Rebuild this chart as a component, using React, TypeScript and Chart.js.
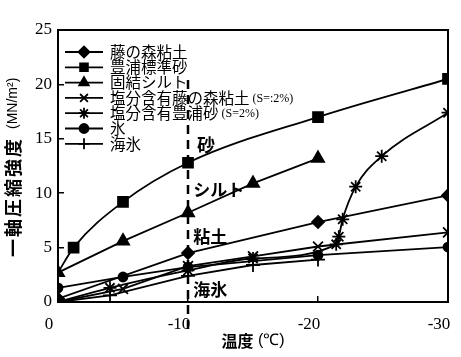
import React, { useEffect, useRef } from 'react';
import { Chart, registerables } from 'chart.js';
import { drawPoint } from 'chart.js/helpers';

Chart.register(...registerables);

// ---- data ----
const seriesLabels = [
  '藤の森粘土',
  '豊浦標準砂',
  '固結シルト',
  '塩分含有藤の森粘土 (S=:2%)',
  '塩分含有豊浦砂 (S=2%)',
  '氷',
  '海氷',
];
const clayX = [0, -10, -20, -30];
const clayY = [0.3, 4.5, 7.35, 9.8];
const sandX = [0, -1.2, -5, -10, -20, -30];
const sandY = [2.7, 5.0, 9.2, 12.8, 17.0, 20.5];
const siltX = [0, -5, -10, -15, -20];
const siltY = [2.7, 5.6, 8.2, 10.9, 13.2];
const saltClayX = [0, -5, -10, -15, -20, -30];
const saltClayY = [0, 1.2, 3.3, 4.2, 5.1, 6.4];
const saltSandX = [0, -4, -10, -15, -21.4, -21.6, -21.9, -22.9, -24.9, -30];
const saltSandY = [0, 1.3, 2.9, 4.0, 5.3, 6.0, 7.6, 10.6, 13.4, 17.4];
const iceX = [0, -5, -10, -20, -30];
const iceY = [1.3, 2.3, 3.2, 4.3, 5.05];
const seaIceX = [0, -4, -10, -15, -20];
const seaIceY = [0, 0.6, 2.4, 3.4, 3.9];

const xTicks = [0, -10, -20, -30];
const yTicks = [0, 5, 10, 15, 20, 25];

const dividerX = [-10, -10];
const dividerY = [20.4, -3];

const noteLabels = ['砂', 'シルト', '粘土', '海氷'];
const noteX = [-10.7, -10.4, -10.4, -10.4];
const noteY = [14.4, 10.3, 6.0, 1.1];

const yTitleMain = '一軸圧縮強度';
const yTitleUnit = '(MN/m²)';
const xTitleMain = '温度';
const xTitleUnit = ' (℃)';

const pts = (xs: number[], ys: number[]) => xs.map((x, i) => ({ x, y: ys[i] }));

const seriesDefs = [
  { xs: clayX, ys: clayY, style: 'rectRot', r: 6, smooth: false },
  { xs: sandX, ys: sandY, style: 'rect', r: 7, smooth: true, hideFirst: true },
  { xs: siltX, ys: siltY, style: 'triangle', r: 7, smooth: false },
  { xs: saltClayX, ys: saltClayY, style: 'crossRot', r: 7, smooth: false },
  { xs: saltSandX, ys: saltSandY, style: 'star', r: 6.5, smooth: true },
  { xs: iceX, ys: iceY, style: 'circle', r: 4.5, smooth: false },
  { xs: seaIceX, ys: seaIceY, style: 'cross', r: 7, smooth: false },
];

const CJK = '"Noto Sans CJK JP", sans-serif';
const SERIF = '"Liberation Serif", "Times New Roman", serif';
const SANS = '"Liberation Sans", Arial, sans-serif';

const decorPlugin = {
  id: 'decor',
  afterDatasetsDraw(chart: any) {
    const ctx = chart.ctx as CanvasRenderingContext2D;
    const area = chart.chartArea;
    const xs = chart.scales.x;
    const ys = chart.scales.y;
    ctx.save();
    // frame
    ctx.strokeStyle = '#000';
    ctx.lineWidth = 2;
    ctx.strokeRect(area.left, area.top, area.right - area.left, area.bottom - area.top);

    // annotations
    ctx.fillStyle = '#000';
    ctx.textBaseline = 'middle';
    ctx.textAlign = 'left';
    noteLabels.forEach((t, i) => {
      ctx.font = `bold ${i === 0 ? 18 : 17}px ${CJK}`;
      ctx.fillText(t, xs.getPixelForValue(noteX[i]), ys.getPixelForValue(noteY[i]));
    });

    // legend
    const lx0 = area.left + 7;
    const lx1 = area.left + 45;
    const rowH = 15.3;
    const ly0 = area.top + 22;
    seriesLabels.forEach((lab, i) => {
      const def = seriesDefs[i];
      const y = ly0 + i * rowH;
      ctx.strokeStyle = '#000';
      ctx.fillStyle = '#000';
      ctx.lineWidth = 1.8;
      ctx.beginPath();
      ctx.moveTo(lx0, y);
      ctx.lineTo(lx1, y);
      ctx.stroke();
      drawPoint(ctx, { pointStyle: def.style as any, radius: Math.min(def.r, 5.5), rotation: 0, borderWidth: 1.8 } as any, (lx0 + lx1) / 2, y);
      const k = lab.indexOf(' (');
      const main = k >= 0 ? lab.slice(0, k) : lab;
      const suffix = k >= 0 ? lab.slice(k) : '';
      ctx.textAlign = 'left';
      ctx.textBaseline = 'middle';
      ctx.font = `15.5px ${CJK}`;
      ctx.fillText(main, area.left + 52, y);
      if (suffix) {
        const w = ctx.measureText(main).width;
        ctx.font = `12px ${SERIF}`;
        ctx.fillText(suffix, area.left + 52 + w, y + 1);
      }
    });
    ctx.restore();
  },
  afterDraw(chart: any) {
    const ctx = chart.ctx as CanvasRenderingContext2D;
    const area = chart.chartArea;
    ctx.save();
    ctx.fillStyle = '#000';
    // y title
    ctx.translate(13, 257);
    ctx.rotate(-Math.PI / 2);
    ctx.textBaseline = 'middle';
    ctx.textAlign = 'left';
    ctx.font = `bold 18px ${CJK}`;
    (ctx as any).letterSpacing = '2px';
    ctx.fillText(yTitleMain, 0, 0);
    const w1 = ctx.measureText(yTitleMain).width;
    (ctx as any).letterSpacing = '0px';
    ctx.font = `14px ${SANS}`;
    ctx.fillText(yTitleUnit, w1 + 8, 0);
    ctx.restore();

    // x title
    ctx.save();
    ctx.fillStyle = '#000';
    ctx.textBaseline = 'middle';
    ctx.textAlign = 'left';
    ctx.font = `bold 16px ${CJK}`;
    const a = ctx.measureText(xTitleMain).width;
    ctx.font = `16px ${SANS}`;
    const b = ctx.measureText(xTitleUnit).width;
    const cx = (area.left + area.right) / 2;
    const start = cx - (a + b) / 2;
    ctx.font = `bold 16px ${CJK}`;
    ctx.fillText(xTitleMain, start, 341);
    ctx.font = `16px ${SANS}`;
    ctx.fillText(xTitleUnit, start + a, 341);
    ctx.restore();
  },
};

export default function App() {
  const ref = useRef<HTMLCanvasElement | null>(null);
  useEffect(() => {
    if (!ref.current) return;
    const datasets: any[] = seriesDefs.map((d, i) => ({
      label: seriesLabels[i],
      data: pts(d.xs, d.ys),
      showLine: true,
      borderColor: '#000',
      backgroundColor: '#000',
      borderWidth: 1.8,
      pointStyle: d.style,
      pointRadius: d.xs.map((_, j) => ((d as any).hideFirst && j === 0 ? 0 : d.r)),
      pointBorderWidth: 1.8,
      pointBackgroundColor: '#000',
      pointBorderColor: '#000',
      cubicInterpolationMode: d.smooth ? 'monotone' : 'default',
      tension: 0,
    }));
    datasets.push({
      label: 'divider',
      data: pts(dividerX, dividerY),
      showLine: true,
      borderColor: '#000',
      borderWidth: 2.5,
      borderDash: [9, 6],
      pointRadius: 0,
      clip: false,
    });
    const chart = new Chart(ref.current, {
      type: 'scatter',
      data: { datasets },
      options: {
        animation: false,
        responsive: true,
        maintainAspectRatio: false,
        layout: { padding: { top: 30, right: 13, left: 0, bottom: 0 } },
        plugins: { legend: { display: false }, tooltip: { enabled: false } },
        events: [],
        scales: {
          x: {
            type: 'linear',
            min: -30,
            max: 0,
            reverse: true,
            afterFit: (s: any) => {
              s.height = 55;
              s.paddingLeft = 0;
              s.paddingRight = 0;
            },
            afterBuildTicks: (s: any) => { s.ticks = xTicks.map((v) => ({ value: v })); },
            ticks: {
              color: '#000',
              font: { family: SERIF, size: 17 },
              padding: 18,
              labelOffset: -9,
              autoSkip: false,
              maxRotation: 0,
            },
            grid: { drawOnChartArea: false, tickLength: -6, color: '#000', lineWidth: 1.5 },
            border: { color: '#000', width: 2 },
          },
          y: {
            type: 'linear',
            min: 0,
            max: 25,
            afterFit: (s: any) => {
              s.width = 58;
              s.paddingTop = 0;
              s.paddingBottom = 0;
            },
            afterBuildTicks: (s: any) => { s.ticks = yTicks.map((v) => ({ value: v })); },
            ticks: {
              color: '#000',
              font: { family: SERIF, size: 17 },
              padding: 12,
              autoSkip: false,
            },
            grid: { drawOnChartArea: false, tickLength: -6, color: '#000', lineWidth: 1.5 },
            border: { color: '#000', width: 2 },
          },
        },
      } as any,
      plugins: [decorPlugin],
    });
    return () => chart.destroy();
  }, []);
  return (
    <div style={{ position: 'absolute', left: 0, top: 0, width: 461, height: 357, background: '#fff' }}>
      <canvas ref={ref} />
    </div>
  );
}
